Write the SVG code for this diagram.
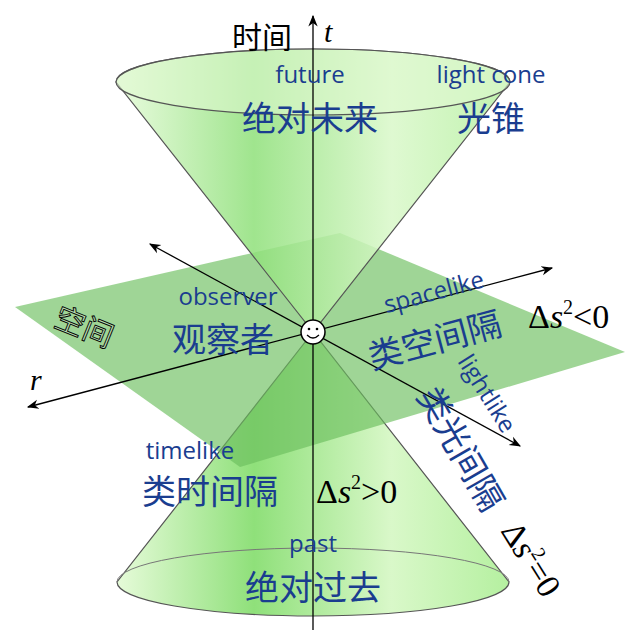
<svg xmlns="http://www.w3.org/2000/svg" width="640" height="630" viewBox="0 0 640 630">
<defs>
<linearGradient id="cg" x1="0" y1="0" x2="1" y2="0">
<stop offset="0" stop-color="#e6fbd9"/><stop offset="0.35" stop-color="#8fe07a"/><stop offset="0.7" stop-color="#d9f8c9"/><stop offset="1" stop-color="#b5f0a0"/>
</linearGradient>
<marker id="ah" viewBox="0 0 10 10" refX="9" refY="5" markerWidth="9" markerHeight="9" orient="auto-start-reverse"><path d="M0,1 L10,5 L0,9 L3,5 z" fill="#000"/></marker>
<style>
.b{fill:#1a3d8f;font-family:"Open Sans","Noto Sans","Noto Sans CJK SC",sans-serif}
.s{font-size:24px}.c{font-size:34px;font-family:"Noto Sans CJK SC",sans-serif}
.m{font-family:"Liberation Serif","DejaVu Serif",serif;fill:#000}
.ln{stroke:#000;stroke-width:1.3;fill:none}
.cone{fill:url(#cg);stroke:#555;stroke-width:1.2}
</style>
</defs>
<g id="past-cone">
<path class="cone" d="M313,332 L117,582 A196,34 0 0 0 509,582 Z"/>
<path d="M117,582 A196,34 0 0 1 509,582" fill="none" stroke="#777" stroke-width="1"/>
</g>
<g id="plane"><polygon points="15,307 340,233 625,352 240,467" fill="#6cbf5e" fill-opacity="0.65"/></g>
<g id="future-cone">
<path class="cone" d="M313,332 L116,82 A197,33 0 0 1 510,82 Z" fill-opacity="0.85"/>
<ellipse cx="313" cy="82" rx="197" ry="33" fill="#dff8d0" fill-opacity="0.6" stroke="#555" stroke-width="1.2"/>
</g>
<g id="connectors">
<line class="ln" x1="313" y1="630" x2="313" y2="16" stroke="#666" stroke-width="1" marker-end="url(#ah)"/>
<line class="ln" x1="28" y1="407" x2="552" y2="268" marker-start="url(#ah)" marker-end="url(#ah)"/>
<line class="ln" x1="150" y1="244" x2="520" y2="446" marker-start="url(#ah)" marker-end="url(#ah)"/>
</g>
<g id="observer">
<circle cx="313" cy="332" r="12" fill="#fff" stroke="#000" stroke-width="1.5"/>
<circle cx="309" cy="329" r="1.3"/><circle cx="317" cy="329" r="1.3"/>
<path d="M307,335 Q313,341 319,335" fill="none" stroke="#000" stroke-width="1.2"/>
<text class="b s" x="228" y="305" text-anchor="middle">observer</text>
<text class="b c" x="223" y="352" text-anchor="middle">观察者</text>
</g>
<g id="axis-labels">
<text x="262" y="48" font-family="Noto Sans CJK SC,sans-serif" font-size="30" text-anchor="middle">时间</text>
<text class="m" x="324" y="42" font-size="30" font-style="italic">t</text>
<text class="m" x="30" y="390" font-size="30" font-style="italic">r</text>
<text x="85" y="338" font-family="Noto Sans CJK SC,sans-serif" font-size="30" fill="#fff" fill-opacity="0.3" stroke="#000" stroke-width="0.9" text-anchor="middle" transform="rotate(22 85 325)">空间</text>
</g>
<g id="future">
<text class="b s" x="310" y="83" text-anchor="middle">future</text>
<text class="b c" x="310" y="131" text-anchor="middle">绝对未来</text>
<text class="b s" x="491" y="83" text-anchor="middle">light cone</text>
<text class="b c" x="491" y="131" text-anchor="middle">光锥</text>
</g>
<g id="spacelike">
<text class="b s" x="436" y="300" text-anchor="middle" transform="rotate(-15 436 300)">spacelike</text>
<text class="b c" x="438" y="352" text-anchor="middle" transform="rotate(-15 438 352)">类空间隔</text>
<text class="m" x="528" y="328" font-size="34"><tspan>Δ</tspan><tspan font-style="italic">s</tspan><tspan font-size="20" dy="-14">2</tspan><tspan dy="14">&lt;0</tspan></text>
</g>
<g id="lightlike">
<text class="b s" x="480" y="398" text-anchor="middle" transform="rotate(58 480 398)">lightlike</text>
<text class="b c" x="450" y="455" text-anchor="middle" transform="rotate(60 450 455)" font-size="36">类光间隔</text>
<text class="m" x="530" y="570" font-size="34" text-anchor="middle" transform="rotate(58 530 560)"><tspan>Δ</tspan><tspan font-style="italic">s</tspan><tspan font-size="20" dy="-14">2</tspan><tspan dy="14">=0</tspan></text>
</g>
<g id="timelike">
<text class="b s" x="190" y="459" text-anchor="middle">timelike</text>
<text class="b c" x="210" y="504" text-anchor="middle">类时间隔</text>
<text class="m" x="316" y="503" font-size="34"><tspan>Δ</tspan><tspan font-style="italic">s</tspan><tspan font-size="20" dy="-14">2</tspan><tspan dy="14">&gt;0</tspan></text>
</g>
<g id="past">
<text class="b s" x="313" y="552" text-anchor="middle">past</text>
<text class="b c" x="313" y="600" text-anchor="middle">绝对过去</text>
</g>
</svg>
